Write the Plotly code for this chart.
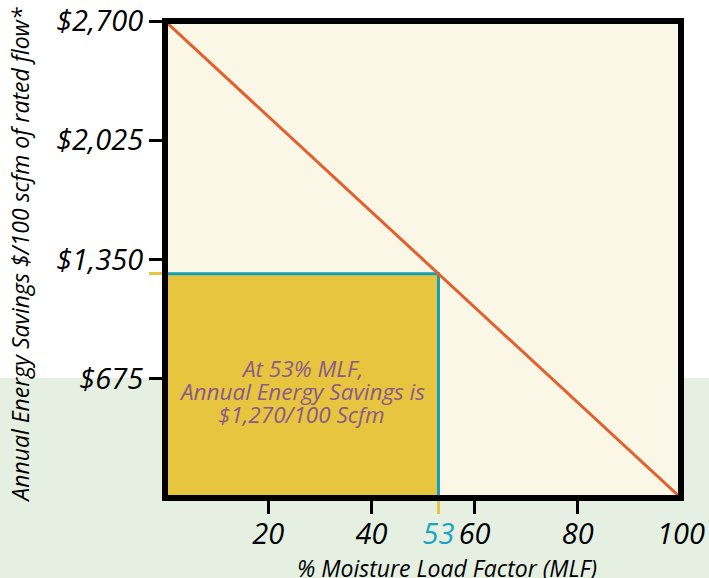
import plotly.graph_objects as go

# ---- data ----
mlf_line = [0, 100]                 # % Moisture Load Factor
savings_line = [2700, 0]            # Annual energy savings $/100 scfm
mlf_point = 53
savings_point = 1270
x_ticks = [20, 40, 60, 80]
x_tick_labels = ["20", "40", "60", "80"]
x_extra_ticks = [53, 100]
x_extra_labels = ["<span style='color:#1ba3c2'>53</span>", "100"]
y_ticks = [675, 1350, 2025, 2700]
y_tick_labels = ["$675", "$1,350", "$2,025", "$2,700"]
note_lines = ["At 53% MLF,", "Annual Energy Savings is", "$1,270/100 Scfm"]

FONT = "Open Sans"
tickfont = dict(family=FONT, size=29, color="black", style="italic")

fig = go.Figure()

# filled savings area
fig.add_trace(go.Scatter(
    x=[0, 0, mlf_point, mlf_point, 0],
    y=[0, savings_point, savings_point, 0, 0],
    fill="toself", fillcolor="#e8c53f", line=dict(width=0),
    mode="lines", hoverinfo="skip", showlegend=False))
# cyan outline
fig.add_trace(go.Scatter(
    x=[0, mlf_point, mlf_point], y=[savings_point, savings_point, 0],
    mode="lines", line=dict(color="#12a0bc", width=3),
    hoverinfo="skip", showlegend=False))
# savings line
fig.add_trace(go.Scatter(
    x=mlf_line, y=savings_line, mode="lines",
    line=dict(color="#e35f2c", width=3), showlegend=False))
# dummy traces for overlay axes
fig.add_trace(go.Scatter(x=[None], y=[None], xaxis="x2", yaxis="y", showlegend=False))
fig.add_trace(go.Scatter(x=[None], y=[None], xaxis="x3", yaxis="y", showlegend=False))
fig.add_trace(go.Scatter(x=[None], y=[None], xaxis="x", yaxis="y2", showlegend=False))

for i, line in enumerate(note_lines):
    fig.add_annotation(
        x=mlf_point / 2, y=savings_point / 2, xref="x", yref="y",
        text=line, showarrow=False, yshift=17 - 23 * i,
        font=dict(family=FONT, size=22.5, color="#8a5a8c", style="italic"),
        xanchor="center", yanchor="middle")

fig.add_annotation(
    x=-0.281, y=0.51, xref="paper", yref="paper", textangle=-90,
    text="Annual Energy Savings $/100 scfm of rated flow*", showarrow=False,
    font=dict(family=FONT, size=23, color="black", style="italic"),
    xanchor="center", yanchor="middle")
fig.add_annotation(
    x=0.547, y=-0.147, xref="paper", yref="paper",
    text="% Moisture Load Factor (MLF)", showarrow=False,
    font=dict(family=FONT, size=23, color="black", style="italic"),
    xanchor="center", yanchor="middle")

# background shapes
fig.add_shape(type="rect", xref="paper", yref="paper",
              x0=-0.5, x1=1.2, y0=-0.3, y1=0.2516,
              fillcolor="#e5f0e3", line=dict(width=0), layer="below")
fig.add_shape(type="rect", xref="paper", yref="paper",
              x0=0, x1=1, y0=0, y1=1,
              fillcolor="#fbf7e7", line=dict(width=0), layer="below")
# frame
fig.add_shape(type="rect", xref="paper", yref="paper",
              x0=0, x1=1, y0=0, y1=1,
              line=dict(color="black", width=6), layer="above")

axis_common = dict(showgrid=False, zeroline=False, showline=False,
                   ticks="outside", ticklen=15, tickwidth=3, automargin=False)

fig.update_layout(
    width=709, height=578,
    margin=dict(l=165, r=28, t=21, b=80, autoexpand=False),
    paper_bgcolor="white", plot_bgcolor="rgba(0,0,0,0)",
    showlegend=False,
    xaxis=dict(range=[0, 100], tickvals=x_ticks, ticktext=x_tick_labels,
               tickcolor="black", tickfont=tickfont, ticklabelstandoff=-5,
               **axis_common),
    xaxis2=dict(range=[0, 100], overlaying="x", side="bottom", anchor="y",
                tickvals=x_extra_ticks, ticktext=x_extra_labels,
                tickcolor="rgba(0,0,0,0)", tickfont=tickfont, ticklabelstandoff=-5,
                **axis_common),
    xaxis3=dict(range=[0, 100], overlaying="x", side="bottom", anchor="y",
                tickvals=[mlf_point], showticklabels=False,
                tickcolor="#e8c53f", **axis_common),
    yaxis=dict(range=[0, 2700], tickvals=y_ticks, ticktext=y_tick_labels,
               tickcolor="black", tickfont=tickfont, **axis_common),
    yaxis2=dict(range=[0, 2700], overlaying="y", side="left", anchor="x",
                tickvals=[savings_point], showticklabels=False,
                tickcolor="#e8c53f", **axis_common),
)

fig.write_html(
    "out.html",
    config={"displayModeBar": False},
    post_script="document.body.style.margin='0';document.body.style.padding='0';",
)
